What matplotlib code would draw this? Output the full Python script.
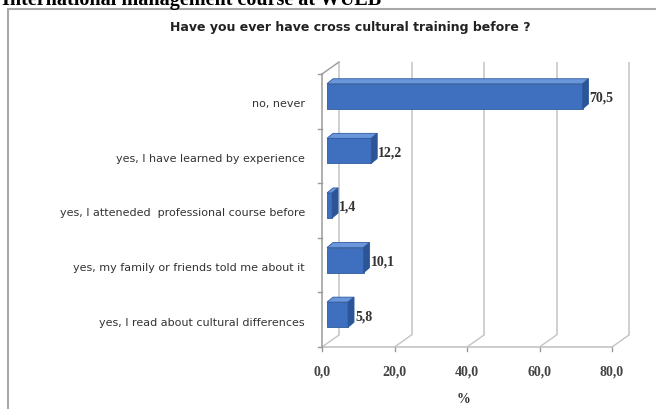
import matplotlib
matplotlib.use('Agg')
import matplotlib.pyplot as plt
from matplotlib.patches import Polygon, Rectangle

header = "International management course at WUEB"
title = "Have you ever have cross cultural training before ?"
categories = ["no, never",
              "yes, I have learned by experience",
              "yes, I atteneded  professional course before",
              "yes, my family or friends told me about it",
              "yes, I read about cultural differences"]
values = [70.5, 12.2, 1.4, 10.1, 5.8]
value_labels = ["70,5", "12,2", "1,4", "10,1", "5,8"]
x_ticks = [0, 20, 40, 60, 80]
x_tick_labels = ["0,0", "20,0", "40,0", "60,0", "80,0"]
x_label = "%"

W, H = 656, 410
fig = plt.figure(figsize=(W / 100, H / 100), dpi=100)
fig.patch.set_facecolor('white')

# front plane of the 3-D plot area (pixel geometry)
L, R, T, B = 322, 612, 75, 348
ax = fig.add_axes([L / W, 1 - B / H, (R - L) / W, (B - T) / H])
ax.set_xlim(0, 80)
ax.set_ylim(-0.5, 4.5)
ax.axis('off')
sx = 80 / (R - L)   # data units per pixel (x)
sy = 5 / (B - T)    # data units per pixel (y)

DX, DY = 17, 12      # wall depth in px
grid_c = '#c4c4c4'
ax_c = '#9a9a9a'

# back wall gridlines + floor diagonals + ticks
for t in x_ticks:
    ax.plot([t + DX * sx] * 2, [-0.5 + DY * sy, 4.5 + DY * sy], color=grid_c, lw=1.1,
            clip_on=False, solid_capstyle='butt')
    ax.plot([t, t + DX * sx], [-0.5, -0.5 + DY * sy], color=grid_c, lw=1.0, clip_on=False)
    ax.plot([t, t], [-0.5, -0.5 - 4 * sy], color=ax_c, lw=1.0, clip_on=False)
# front floor line
ax.plot([0, 80], [-0.5, -0.5], color=grid_c, lw=1.2, clip_on=False)
# left wall
ax.plot([0, 0], [-0.5, 4.5], color=ax_c, lw=1.1, clip_on=False)
ax.plot([0, DX * sx], [4.5, 4.5 + DY * sy], color=ax_c, lw=1.0, clip_on=False)
for b in range(6):
    yb = b - 0.5
    ax.plot([-4 * sx, 0], [yb, yb], color=ax_c, lw=1.0, clip_on=False)

# bars (3-D look)
fx, fy = 5, 5        # front-face offset in px
bx, by = 6, 5        # bar depth in px
h = 0.46
front_c, top_c, side_c, edge_c = '#3f70c0', '#6a96dc', '#2c5596', '#2e5a9e'
for i, (v, lab) in enumerate(zip(values, value_labels)):
    yc = 4 - i
    x0 = fx * sx
    y0 = yc - h / 2 + fy * sy
    y1 = y0 + h
    ax.add_patch(Rectangle((x0, y0), v, h, facecolor=front_c, edgecolor=edge_c, lw=0.6,
                           clip_on=False, zorder=3))
    ax.add_patch(Polygon([(x0, y1), (x0 + v, y1), (x0 + v + bx * sx, y1 + by * sy),
                          (x0 + bx * sx, y1 + by * sy)], closed=True, facecolor=top_c,
                         edgecolor=edge_c, lw=0.6, clip_on=False, zorder=3))
    ax.add_patch(Polygon([(x0 + v, y0), (x0 + v, y1), (x0 + v + bx * sx, y1 + by * sy),
                          (x0 + v + bx * sx, y0 + by * sy)], closed=True, facecolor=side_c,
                         edgecolor=edge_c, lw=0.6, clip_on=False, zorder=3))
    ax.text(x0 + v + bx * sx + 1 * sx, yc + fy * sy - 1 * sy, lab, ha='left', va='center',
            fontsize=10, family='Liberation Serif', fontweight='bold', color='#333333',
            zorder=4)
    # category label
    ax.text(-17 * sx, yc - 2 * sy, categories[i], ha='right', va='center', fontsize=8,
            family='DejaVu Sans', color='#333333')

# x tick labels and axis label
for t, lab in zip(x_ticks, x_tick_labels):
    ax.text(t, -0.5 - 24 * sy, lab, ha='center', va='center', fontsize=10,
            family='Liberation Serif', fontweight='bold', color='#444444')
ax.text(40 - 3 * sx, -0.5 - 52 * sy, x_label, ha='center', va='center', fontsize=10,
        family='Liberation Serif', fontweight='bold', color='#333333')

# title and header
fig.text(350 / W, 1 - 28 / H, title, ha='center', va='center', fontsize=9,
         family='DejaVu Sans', fontweight='bold', color='#222222')
fig.text(2 / W, 1 - 5 / H, header, ha='left', va='baseline', fontsize=14.5,
         family='Liberation Serif', fontweight='bold', color='black')

# chart border
fig.patches.append(Rectangle((8 / W, -0.05), 1.1, 1 - 10 / H + 0.05, transform=fig.transFigure,
                             facecolor='none', edgecolor='#a8a8a8', lw=1.5))

fig.savefig('out.png', dpi=100)
